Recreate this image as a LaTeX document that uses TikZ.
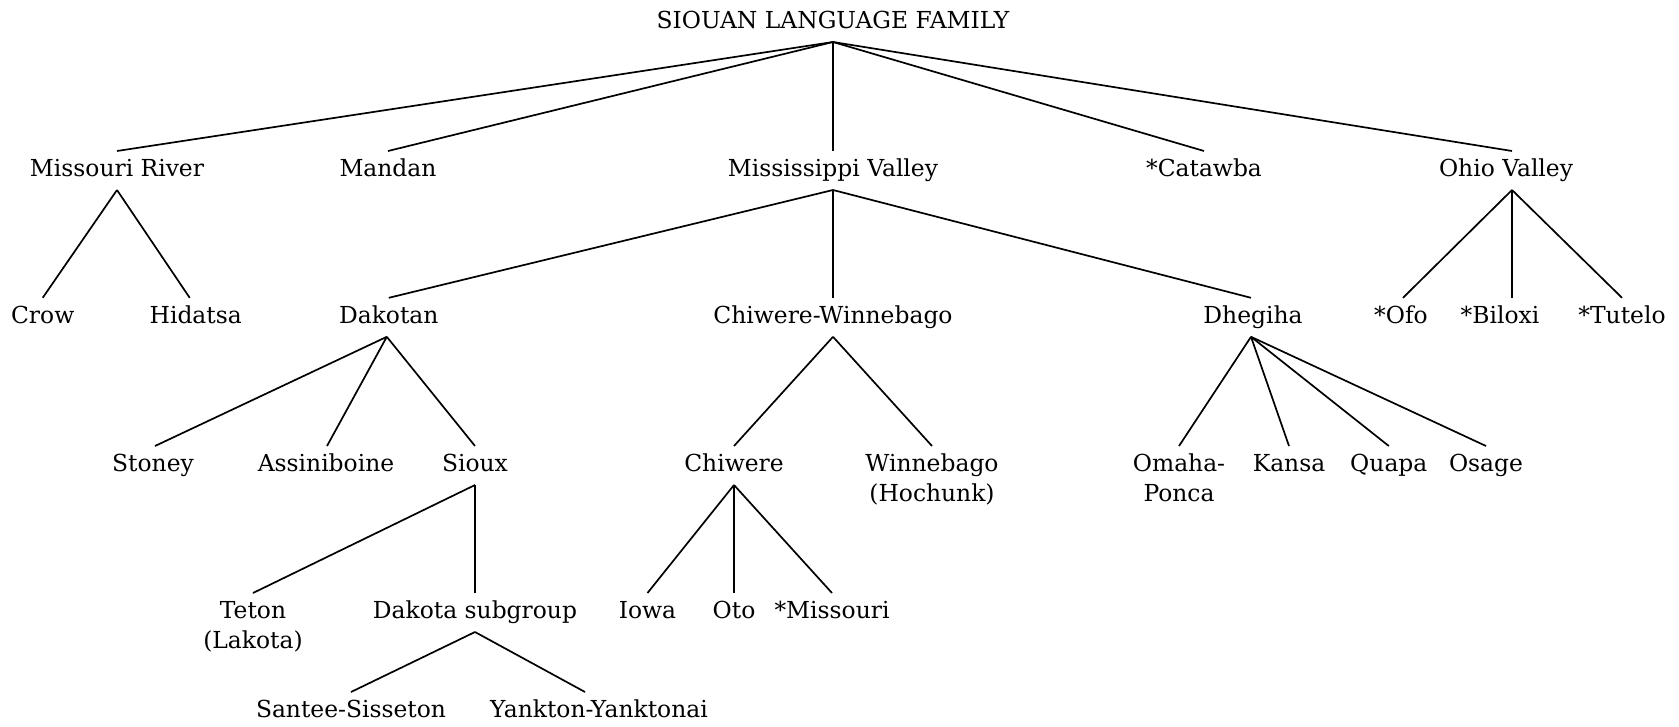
\documentclass[tikz,border=0pt]{standalone}
\usepackage{fontspec}
\setmainfont{DejaVu Serif}
\newcommand\twol[2]{\vtop{\baselineskip=29.7pt\halign{\hfil##\hfil\cr#1\cr#2\cr}}}
\begin{document}
\begin{tikzpicture}[x=1pt,y=-1pt,
  lang/.style={inner sep=0pt, text height=25.3pt, text depth=13.3pt, anchor=base, font=\fontsize{23.4}{28}\selectfont},
  edge/.style={line width=1.7pt, line cap=butt}]
\useasboundingbox (0,0) rectangle (1679,726);
% level 0
\node[lang] (root) at (833,28.5) {SIOUAN LANGUAGE FAMILY};
% level 1
\node[lang] (mr)  at (117,176.5)  {Missouri River};
\node[lang] (man) at (388,176.5)  {Mandan};
\node[lang] (mv)  at (833,176.5)  {Mississippi Valley};
\node[lang] (cat) at (1204,176.5) {*Catawba};
\node[lang] (ov)  at (1506,176.5) {Ohio Valley};
% level 2
\node[lang] (crow) at (42.7,323.3)  {Crow};
\node[lang] (hid)  at (195.7,323.3) {Hidatsa};
\node[lang] (dak)  at (388.8,323.3) {Dakotan};
\node[lang] (cw)   at (833,323.3)   {Chiwere-Winnebago};
\node[lang] (dhe)  at (1253,323.3)  {Dhegiha};
\node[lang] (ofo)  at (1401,323.3)  {*Ofo};
\node[lang] (bil)  at (1500,323.3)  {*Biloxi};
\node[lang] (tut)  at (1622,323.3)  {*Tutelo};
% level 3
\node[lang] (sto) at (153,471.5)  {Stoney};
\node[lang] (ass) at (326,471.5)  {Assiniboine};
\node[lang] (sio) at (475,471.5)  {Sioux};
\node[lang] (chi) at (734,471.5) {Chiwere};
\node[lang] (win) at (932,471.5)  {\twol{Winnebago}{(Hochunk)}};
\node[lang] (omp) at (1179,471.5) {\twol{Omaha-}{Ponca}};
\node[lang] (kan) at (1289,471.5) {Kansa};
\node[lang] (qua) at (1388.8,471.5) {Quapa};
\node[lang] (osa) at (1486,471.5) {Osage};
% level 4
\node[lang] (tet)  at (253,618.5)  {\twol{Teton}{(Lakota)}};
\node[lang] (dsub) at (475,618.5)  {Dakota subgroup};
\node[lang] (iow)  at (647.5,618.5) {Iowa};
\node[lang] (oto)  at (734,618.5)  {Oto};
\node[lang] (mis)  at (832,618.5)  {*Missouri};
% level 5
\node[lang] (san) at (351,717.5) {Santee-Sisseton};
\node[lang] (yan) at (599,717.5) {Yankton-Yanktonai};
% edges
\draw[edge] (root.south) -- (mr.north);
\draw[edge] (root.south) -- (man.north);
\draw[edge] (root.south) -- (mv.north);
\draw[edge] (root.south) -- (cat.north);
\draw[edge] (root.south) -- ([xshift=6pt]ov.north);
\draw[edge] (mr.south) -- (crow.north);
\draw[edge] (mr.south) -- ([xshift=-6pt]hid.north);
\draw[edge] (mv.south) -- (dak.north);
\draw[edge] (mv.south) -- (cw.north);
\draw[edge] (mv.south) -- ([xshift=-2pt]dhe.north);
\draw[edge] ([xshift=6pt]ov.south) -- ([xshift=2pt]ofo.north);
\draw[edge] ([xshift=6pt]ov.south) -- ([xshift=12pt]bil.north);
\draw[edge] ([xshift=6pt]ov.south) -- (tut.north);
\draw[edge] ([xshift=-2pt]dak.south) -- ([xshift=2pt]sto.north);
\draw[edge] ([xshift=-2pt]dak.south) -- ([xshift=1pt]ass.north);
\draw[edge] ([xshift=-2pt]dak.south) -- (sio.north);
\draw[edge] (cw.south) -- (chi.north);
\draw[edge] (cw.south) -- (win.north);
\draw[edge] ([xshift=-2pt]dhe.south) -- (omp.north);
\draw[edge] ([xshift=-2pt]dhe.south) -- (kan.north);
\draw[edge] ([xshift=-2pt]dhe.south) -- (qua.north);
\draw[edge] ([xshift=-2pt]dhe.south) -- (osa.north);
\draw[edge] (sio.south) -- (tet.north);
\draw[edge] (sio.south) -- (dsub.north);
\draw[edge] (chi.south) -- (iow.north);
\draw[edge] (chi.south) -- (oto.north);
\draw[edge] (chi.south) -- (mis.north);
\draw[edge] (dsub.south) -- (san.north);
\draw[edge] (dsub.south) -- ([xshift=-14pt]yan.north);
\end{tikzpicture}
\end{document}
